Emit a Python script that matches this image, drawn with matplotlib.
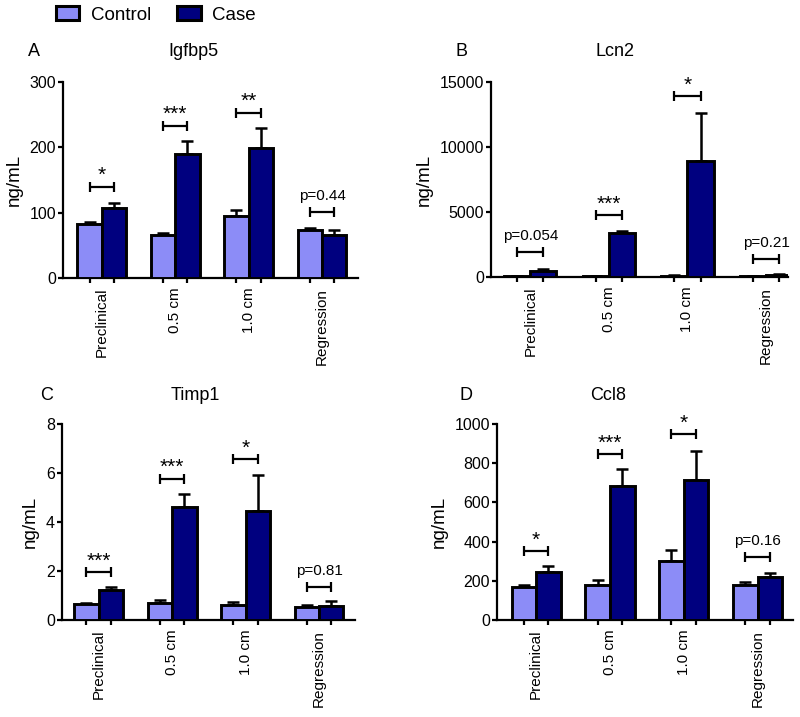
import matplotlib
matplotlib.use("Agg")
import matplotlib.pyplot as plt
import numpy as np
from matplotlib.patches import Patch

plt.rcParams['font.family'] = ['Liberation Sans', 'DejaVu Sans']

groups = ["Preclinical", "0.5 cm", "1.0 cm", "Regression"]

igfbp5_control = [82, 66, 95, 73]
igfbp5_control_err = [3, 3, 9, 4]
igfbp5_case = [107, 190, 199, 66]
igfbp5_case_err = [8, 20, 30, 7]
igfbp5_bracket = [140, 233, 253, 101]
igfbp5_sig = ["*", "***", "**", "p=0.44"]

lcn2_control = [50, 60, 100, 50]
lcn2_control_err = [20, 20, 40, 20]
lcn2_case = [450, 3380, 8900, 150]
lcn2_case_err = [200, 180, 3700, 90]
lcn2_bracket = [1900, 4770, 13900, 1380]
lcn2_sig = ["p=0.054", "***", "*", "p=0.21"]

timp1_control = [0.65, 0.70, 0.63, 0.55]
timp1_control_err = [0.05, 0.12, 0.09, 0.07]
timp1_case = [1.22, 4.63, 4.45, 0.58]
timp1_case_err = [0.11, 0.50, 1.48, 0.19]
timp1_bracket = [1.96, 5.76, 6.57, 1.35]
timp1_sig = ["***", "***", "*", "p=0.81"]

ccl8_control = [168, 180, 303, 178]
ccl8_control_err = [10, 25, 52, 17]
ccl8_case = [247, 684, 716, 220]
ccl8_case_err = [30, 86, 146, 18]
ccl8_bracket = [352, 847, 949, 321]
ccl8_sig = ["*", "***", "*", "p=0.16"]

C_CONTROL = "#8C8CF7"
C_CASE = "#00007F"

W, H = 800, 717
fig = plt.figure(figsize=(W / 100, H / 100), dpi=100)


def px_axes(l, r, b, t):
    return fig.add_axes([l / W, 1 - b / H, (r - l) / W, (b - t) / H])


panels = [
    dict(box=(63, 358, 278, 82), xlim=(-0.53, 3.49), ylim=(0, 300), yticks=[0, 100, 200, 300],
         ctrl=igfbp5_control, ctrl_e=igfbp5_control_err, case=igfbp5_case, case_e=igfbp5_case_err,
         br=igfbp5_bracket, sig=igfbp5_sig, letter="A", title="Igfbp5",
         letter_xy=(34, 52), title_xy=(193, 52)),
    dict(box=(491, 788, 277, 82), xlim=(-0.50, 3.28), ylim=(0, 15000), yticks=[0, 5000, 10000, 15000],
         ctrl=lcn2_control, ctrl_e=lcn2_control_err, case=lcn2_case, case_e=lcn2_case_err,
         br=lcn2_bracket, sig=lcn2_sig, letter="B", title="Lcn2",
         letter_xy=(461, 52), title_xy=(615, 52)),
    dict(box=(62, 355, 620, 424), xlim=(-0.50, 3.49), ylim=(0, 8), yticks=[0, 2, 4, 6, 8],
         ctrl=timp1_control, ctrl_e=timp1_control_err, case=timp1_case, case_e=timp1_case_err,
         br=timp1_bracket, sig=timp1_sig, letter="C", title="Timp1",
         letter_xy=(47, 395), title_xy=(195, 395)),
    dict(box=(497, 793, 620, 424), xlim=(-0.53, 3.48), ylim=(0, 1000), yticks=[0, 200, 400, 600, 800, 1000],
         ctrl=ccl8_control, ctrl_e=ccl8_control_err, case=ccl8_case, case_e=ccl8_case_err,
         br=ccl8_bracket, sig=ccl8_sig, letter="D", title="Ccl8",
         letter_xy=(466, 395), title_xy=(608, 395)),
]

bw = 0.333
x = np.arange(len(groups))

for p in panels:
    l, r, b, t = p["box"]
    ax = px_axes(l, r, b, t)
    xc = x - bw / 2
    xk = x + bw / 2
    ax.bar(xc, p["ctrl"], width=bw, color=C_CONTROL, edgecolor="black", linewidth=2.1, zorder=3)
    ax.bar(xk, p["case"], width=bw, color=C_CASE, edgecolor="black", linewidth=2.1, zorder=3)
    ax.errorbar(xc, p["ctrl"], yerr=[np.zeros(len(x)), p["ctrl_e"]], fmt="none", ecolor="black",
                elinewidth=1.8, capsize=4.5, capthick=1.8, zorder=2)
    ax.errorbar(xk, p["case"], yerr=[np.zeros(len(x)), p["case_e"]], fmt="none", ecolor="black",
                elinewidth=1.8, capsize=4.5, capthick=1.8, zorder=2)
    # significance brackets
    ax.errorbar(x, p["br"], xerr=bw / 2, fmt="none", ecolor="black", elinewidth=1.6,
                capsize=3.6, capthick=1.6, zorder=4, clip_on=False)
    for xi, yb, s in zip(x, p["br"], p["sig"]):
        if s.startswith("p"):
            ax.annotate(s, (xi, yb), xytext=(0, 8.5), textcoords="offset points",
                        ha="center", va="baseline", fontsize=11, annotation_clip=False)
        else:
            ax.annotate(s, (xi, yb), xytext=(0, 4.0), textcoords="offset points",
                        ha="center", va="baseline", fontsize=15, annotation_clip=False)
    ax.set_xlim(*p["xlim"])
    ax.set_ylim(*p["ylim"])
    ax.set_yticks(p["yticks"])
    ax.set_yticklabels([str(v) for v in p["yticks"]], fontsize=11.5)
    ax.set_xticks(np.concatenate([xc, xk]))
    ax.set_xticks(x, minor=True)
    ax.set_xticklabels([])
    ax.set_xticklabels(groups, minor=True, rotation=90, fontsize=11)
    ax.tick_params(axis="x", which="minor", length=0, pad=7)
    ax.tick_params(axis="x", which="major", direction="out", length=3.6, width=1.6)
    ax.tick_params(axis="y", direction="out", length=3.6, width=1.6, pad=1.5)
    for s in ["top", "right"]:
        ax.spines[s].set_visible(False)
    for s in ["left", "bottom"]:
        ax.spines[s].set_linewidth(1.6)
    ax.set_ylabel("ng/mL", fontsize=13.5, labelpad=5)
    fig.text(p["letter_xy"][0] / W, 1 - p["letter_xy"][1] / H, p["letter"], fontsize=13,
             ha="center", va="center")
    fig.text(p["title_xy"][0] / W, 1 - p["title_xy"][1] / H, p["title"], fontsize=13,
             ha="center", va="center")

handles = [Patch(facecolor=C_CONTROL, edgecolor="black", linewidth=2.2, label="Control"),
           Patch(facecolor=C_CASE, edgecolor="black", linewidth=2.2, label="Case")]
fig.legend(handles=handles, loc="center left", bbox_to_anchor=(56 / W, 1 - 15 / H), ncol=2,
           frameon=False, fontsize=13.5, handlelength=1.25, handleheight=0.75, handletextpad=0.6,
           columnspacing=1.4, borderpad=0, borderaxespad=0)

fig.savefig("out.png", dpi=100, facecolor="white")
